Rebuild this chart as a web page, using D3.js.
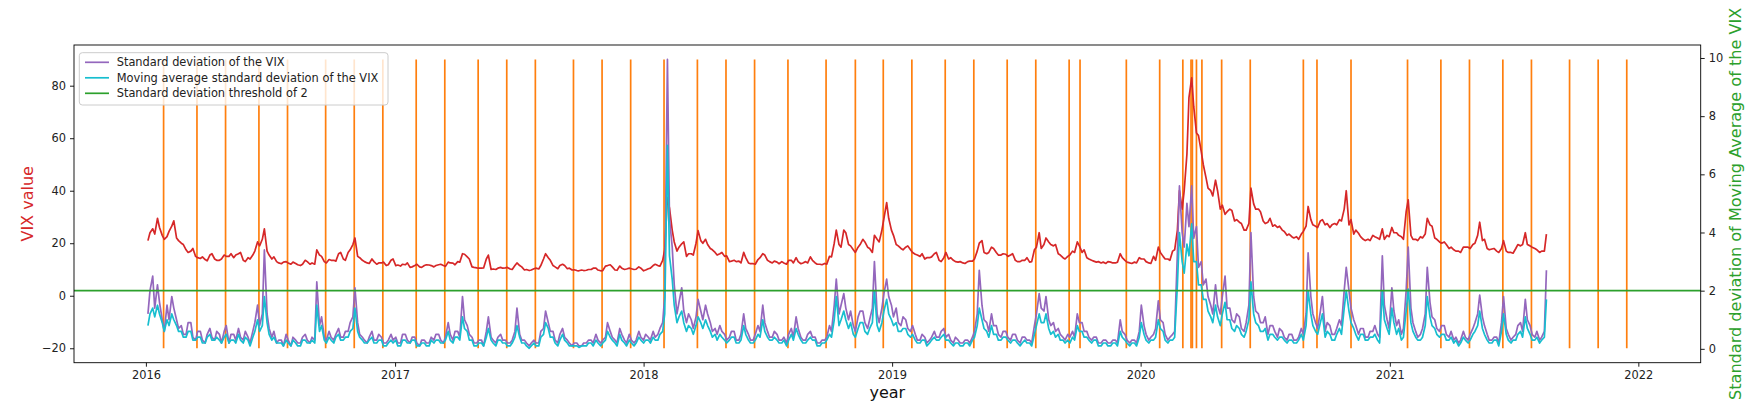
<!DOCTYPE html>
<html><head><meta charset="utf-8">
<script src="https://cdn.jsdelivr.net/npm/d3@7"></script>
<style>body{margin:0;background:#fff;} text{font-family:"DejaVu Sans",sans-serif;}</style>
</head><body><svg id="c" width="1754" height="414"></svg>
<script>
// ---- data: two samples per week (Monday, Thursday), one array per year ----
const years = [2016, 2017, 2018, 2019, 2020, 2021];
const vix2016 = [21.0,24.0, 25.5,23.5, 29.5,26.0, 23.0,21.5, 22.5,24.5, 26.5,28.5, 22.0,21.0, 20.0,19.5, 17.5,16.5, 17.0,18.0,
  15.0,14.5, 14.2,14.8, 13.8,13.3, 15.5,16.0, 14.0,13.5, 13.5,14.0, 15.5,15.0, 15.0,16.0, 14.5,15.5, 16.0,16.5,
  13.5,13.0, 14.5,14.0, 15.5,17.0, 20.5,19.0, 21.5,25.5, 17.0,15.5, 14.0,14.8, 13.0,12.5, 12.2,12.8, 13.0,12.5,
  12.0,12.8, 12.3,11.8, 11.5,12.0, 13.5,13.0, 12.0,12.5, 12.0,17.5, 15.5,15.0, 13.0,12.5, 13.8,13.5, 13.5,13.2,
  16.0,16.5, 14.0,13.5, 16.5,17.5, 19.5,22.0, 15.0,14.5, 13.5,13.0, 12.5,12.3, 14.0,13.0, 12.0,12.5, 12.5,12.8,
  11.5,11.8, 13.5,14.0];
const vix2017 = [11.5,11.7, 11.3,12.0, 11.8,12.5, 10.8,11.0, 11.5,12.0, 11.0,10.8, 11.5,11.8, 11.7,11.5, 11.0,11.5, 11.8,12.0,
  11.5,11.2, 12.8,12.5, 12.4,11.8, 13.0,12.8, 16.0,15.8, 14.8,14.0, 11.0,10.8, 10.6,10.5, 10.5,10.6, 14.0,15.5,
  10.0,10.2, 10.0,10.5, 10.8,10.5, 10.6,10.8, 10.2,10.0, 11.5,12.5, 11.5,11.0, 9.8,10.0, 9.6,9.8, 10.3,10.5,
  10.2,11.5, 14.0,16.0, 14.5,13.5, 11.5,11.0, 10.3,11.5, 12.0,11.5, 10.3,10.5, 9.8,9.9, 9.6,9.5, 9.8,9.6,
  9.7,10.0, 10.0,10.5, 10.5,9.8, 9.5,9.6, 11.3,11.5, 11.8,11.0, 9.8,9.7, 11.3,10.5, 10.0,10.2, 10.5,10.3,
  10.0,10.1, 11.0,10.5];
const vix2018 = [9.5,9.8, 10.3,10.5, 11.5,12.0, 11.5,11.3, 13.5,17.5, 37.5,33.5, 25.0,20.5, 17.0,18.5, 19.8,20.5, 15.0,16.0,
  16.0,15.5, 20.0,24.8, 21.0,20.0, 21.5,19.5, 18.0,17.5, 16.5,15.5, 16.0,16.5, 15.0,15.2, 13.0,13.2, 13.5,13.0,
  13.2,12.5, 16.5,14.5, 12.5,12.2, 12.2,12.0, 13.8,14.5, 16.0,15.5, 13.5,13.0, 12.5,13.2, 12.8,12.2, 13.0,12.5,
  12.0,13.5, 13.5,12.5, 14.5,13.0, 12.2,12.5, 13.0,12.5, 14.8,13.5, 12.5,12.0, 12.0,11.8, 12.3,12.0, 15.0,14.8,
  20.0,25.0, 19.5,18.5, 25.0,24.0, 19.5,19.0, 17.5,16.5, 18.5,19.5, 21.5,20.5, 18.5,18.0, 16.5,23.0, 21.5,20.5,
  25.0,29.5, 35.5,29.5, 25.0,23.0];
const vix2019 = [19.5,19.0, 18.0,17.5, 18.5,19.0, 17.5,16.5, 15.8,15.5, 15.0,16.0, 14.0,14.5, 14.5,14.8, 16.0,16.5, 13.5,13.0,
  14.5,16.5, 14.0,14.5, 13.5,13.0, 12.8,13.0, 12.5,12.3, 13.0,13.2, 13.2,14.0, 17.0,20.0, 21.0,16.5, 16.0,16.5,
  18.5,18.0, 16.5,15.5, 15.5,16.0, 15.8,15.0, 15.5,16.0, 13.5,13.0, 13.0,13.5, 13.5,14.5, 12.8,13.0, 17.5,18.5,
  24.0,18.0, 19.5,22.0, 20.5,19.5, 19.0,19.5, 16.0,15.5, 14.5,14.0, 15.0,15.5, 17.0,16.5, 20.5,19.0, 16.5,17.5,
  14.5,14.0, 13.5,13.2, 12.8,13.0, 12.5,12.8, 12.3,13.0, 12.8,12.5, 12.5,12.8, 16.0,14.5, 13.5,12.8, 12.5,12.3,
  12.8,12.5, 14.5,14.0];
const vix2020 = [14.0,13.0, 12.5,12.3, 15.0,13.5, 18.5,16.5, 15.0,14.0, 14.0,13.5, 17.0,17.5, 25.0,40.0, 33.0,40.0, 54.0,75.5,
  83.0,72.0, 62.0,61.0, 55.0,50.0, 45.0,41.0, 40.0,38.0, 44.0,40.0, 33.0,34.5, 31.0,32.0, 33.0,32.5, 28.5,29.0,
  28.0,27.5, 25.0,25.0, 27.5,41.0, 35.0,33.0, 33.0,32.0, 28.5,27.5, 28.0,29.5, 26.5,27.0, 26.0,26.5, 25.0,24.5,
  23.0,23.5, 22.5,22.0, 22.5,21.5, 23.5,24.5, 26.5,34.0, 29.0,27.0, 26.5,26.0, 28.5,29.0, 27.0,27.5, 26.0,27.0,
  27.5,27.0, 29.0,28.5, 33.0,40.0, 27.0,29.0, 23.5,25.0, 23.8,22.5, 21.5,21.0, 21.5,21.0, 23.0,22.5, 22.0,21.5,
  25.5,21.5, 23.0,22.5];
const vix2021 = [26.0,24.0, 24.0,23.0, 22.5,21.5, 32.0,36.5, 23.0,21.5, 21.5,21.0, 22.5,22.0, 23.5,29.5, 27.0,26.5, 22.0,21.5,
  20.5,20.0, 20.5,19.5, 18.0,18.5, 17.5,17.0, 17.0,16.5, 18.5,18.5, 18.5,18.0, 19.5,20.0, 23.0,28.0, 21.0,21.5,
  18.0,17.5, 17.8,18.0, 17.0,16.5, 18.0,21.0, 17.0,16.5, 16.5,16.2, 18.0,19.5, 19.0,19.5, 24.0,19.5, 19.0,18.5,
  18.0,17.5, 16.5,17.0, 17.0,23.5];

const sd2016 = [1.2,2.0, 2.5,1.4, 2.2,1.6, 1.0,0.6, 1.5,1.0, 1.8,1.4, 1.0,0.7, 0.8,0.5, 0.5,0.9, 0.9,0.4,
  0.3,0.6, 0.6,0.3, 0.2,0.5, 0.7,0.4, 0.3,0.6, 0.5,0.2, 0.6,0.8, 0.2,0.5, 0.5,0.3, 0.7,0.4,
  0.3,0.6, 0.4,0.2, 0.6,0.9, 1.5,0.8, 1.2,3.4, 1.2,0.7, 0.4,0.6, 0.2,0.3, 0.3,0.1, 0.5,0.3,
  0.1,0.4, 0.3,0.2, 0.2,0.4, 0.5,0.3, 0.2,0.4, 0.3,2.3, 0.8,1.1, 0.4,0.3, 0.6,0.4, 0.3,0.5,
  0.7,0.4, 0.4,0.6, 0.6,0.9, 1.1,2.1, 0.9,0.5, 0.4,0.3, 0.2,0.4, 0.6,0.3, 0.3,0.5, 0.4,0.2,
  0.2,0.3, 0.5,0.3];
const sd2017 = [0.4,0.2, 0.2,0.5, 0.5,0.3, 0.2,0.4, 0.4,0.2, 0.1,0.3, 0.3,0.2, 0.2,0.4, 0.3,0.5, 0.5,0.3,
  0.2,0.4, 0.9,0.5, 0.3,0.6, 0.6,0.4, 1.8,1.0, 0.8,0.5, 0.4,0.2, 0.2,0.3, 0.3,0.1, 0.6,1.1,
  0.4,0.3, 0.2,0.4, 0.5,0.3, 0.3,0.2, 0.2,0.3, 0.6,1.4, 0.5,0.3, 0.3,0.2, 0.1,0.2, 0.3,0.2,
  0.2,0.6, 0.7,1.3, 0.9,0.6, 0.6,0.3, 0.2,0.5, 0.7,0.4, 0.3,0.2, 0.1,0.2, 0.2,0.1, 0.1,0.2,
  0.2,0.3, 0.3,0.2, 0.5,0.3, 0.2,0.3, 0.4,0.9, 0.6,0.4, 0.3,0.2, 0.7,0.5, 0.3,0.2, 0.5,0.3,
  0.2,0.3, 0.6,0.4];
const sd2018 = [0.3,0.5, 0.4,0.3, 0.6,0.4, 0.5,0.7, 0.9,1.8, 9.95,4.5, 3.5,2.2, 1.2,1.6, 2.1,1.3, 0.9,1.2,
  1.0,0.7, 1.1,1.7, 1.3,1.0, 1.5,1.2, 0.9,0.6, 0.7,0.5, 0.8,0.6, 0.5,0.3, 0.4,0.6, 0.6,0.3,
  0.3,0.5, 1.2,0.7, 0.5,0.3, 0.3,0.5, 0.8,0.6, 1.5,0.9, 0.6,0.4, 0.4,0.6, 0.5,0.3, 0.3,0.4,
  0.2,0.5, 0.7,0.4, 1.1,0.7, 0.4,0.3, 0.3,0.5, 0.6,0.4, 0.4,0.2, 0.2,0.3, 0.3,0.4, 0.8,0.6,
  1.5,2.4, 1.2,1.5, 1.9,1.4, 1.0,1.3, 0.8,0.6, 1.1,1.3, 1.3,0.9, 0.7,1.0, 1.4,3.0, 1.2,0.9,
  1.4,1.9, 2.4,1.8, 1.5,1.1];
const sd2019 = [1.4,0.9, 0.8,1.1, 1.0,0.7, 0.6,0.8, 0.5,0.3, 0.3,0.5, 0.4,0.2, 0.3,0.4, 0.6,0.4, 0.4,0.6,
  0.7,0.4, 0.5,0.3, 0.2,0.4, 0.3,0.2, 0.2,0.3, 0.3,0.2, 0.4,0.6, 1.2,2.7, 1.5,1.0, 0.9,0.6,
  1.2,0.8, 0.8,0.5, 0.4,0.6, 0.6,0.4, 0.3,0.5, 0.5,0.3, 0.2,0.4, 0.4,0.3, 0.3,0.2, 0.8,1.2,
  1.9,1.4, 1.3,1.8, 1.0,0.8, 0.9,0.6, 0.7,0.5, 0.4,0.3, 0.5,0.4, 0.6,0.4, 1.2,0.9, 0.9,0.6,
  0.6,0.4, 0.3,0.4, 0.4,0.2, 0.2,0.3, 0.3,0.2, 0.2,0.3, 0.3,0.2, 1.0,0.6, 0.5,0.3, 0.2,0.3,
  0.3,0.2, 0.6,1.5];
const sd2020 = [0.8,0.5, 0.3,0.4, 0.5,0.7, 1.65,1.0, 0.9,0.5, 0.3,0.4, 0.5,0.6, 3.3,5.6, 4.0,3.5, 5.0,4.2,
  5.6,3.8, 4.2,2.8, 3.0,2.2, 2.4,1.8, 1.5,1.2, 2.2,1.5, 1.2,1.8, 2.5,1.4, 1.4,1.0, 0.9,1.2,
  1.1,0.7, 0.6,0.9, 1.5,4.0, 1.8,1.3, 1.2,0.9, 0.9,1.1, 0.5,0.8, 0.8,0.6, 0.4,0.7, 0.6,0.4,
  0.3,0.5, 0.5,0.3, 0.3,0.4, 0.7,0.5, 1.2,3.3, 1.8,1.2, 0.9,0.7, 1.3,1.8, 0.6,0.9, 0.8,0.5,
  0.5,0.7, 1.0,0.8, 2.0,2.8, 2.0,1.4, 1.0,0.8, 0.5,0.7, 0.7,0.4, 0.4,0.6, 0.6,0.8, 0.5,0.4,
  3.2,1.5, 1.0,0.7];
const sd2021 = [2.1,1.3, 0.8,1.0, 0.5,0.7, 2.0,3.5, 1.4,0.9, 0.6,0.4, 0.5,0.7, 1.2,2.8, 1.6,1.1, 1.0,0.7,
  0.6,0.8, 0.8,0.5, 0.4,0.6, 0.3,0.4, 0.2,0.3, 0.6,0.4, 0.3,0.5, 0.7,0.9, 1.2,1.85, 1.1,0.8,
  0.5,0.3, 0.3,0.4, 0.4,0.2, 0.9,1.8, 0.7,0.5, 0.3,0.4, 0.5,0.8, 0.9,0.6, 1.7,1.0, 0.8,0.5,
  0.4,0.6, 0.3,0.4, 0.6,2.7];

const ma2016 = [0.8,1.2, 1.4,1.1, 1.5,1.2, 0.9,0.6, 1.0,0.8, 1.2,1.0, 0.8,0.6, 0.6,0.4, 0.4,0.6, 0.6,0.3,
  0.3,0.4, 0.4,0.2, 0.2,0.4, 0.5,0.3, 0.3,0.4, 0.3,0.2, 0.4,0.5, 0.2,0.3, 0.3,0.2, 0.5,0.3,
  0.2,0.4, 0.3,0.1, 0.4,0.6, 1.0,0.6, 0.8,1.8, 0.9,0.5, 0.3,0.4, 0.2,0.2, 0.2,0.1, 0.3,0.2,
  0.1,0.3, 0.2,0.1, 0.1,0.3, 0.3,0.2, 0.2,0.3, 0.2,1.5, 0.6,0.8, 0.3,0.2, 0.4,0.3, 0.2,0.4,
  0.5,0.3, 0.3,0.4, 0.4,0.6, 0.7,1.4, 0.6,0.4, 0.3,0.2, 0.2,0.3, 0.4,0.2, 0.2,0.3, 0.3,0.1,
  0.1,0.2, 0.3,0.2];
const ma2017 = [0.3,0.1, 0.1,0.3, 0.3,0.2, 0.2,0.3, 0.3,0.1, 0.1,0.2, 0.2,0.1, 0.1,0.3, 0.2,0.3, 0.3,0.2,
  0.2,0.3, 0.6,0.3, 0.2,0.4, 0.4,0.3, 1.1,0.7, 0.6,0.3, 0.3,0.1, 0.1,0.2, 0.2,0.1, 0.4,0.7,
  0.3,0.2, 0.1,0.3, 0.3,0.2, 0.2,0.1, 0.1,0.2, 0.4,0.8, 0.4,0.2, 0.2,0.1, 0.02,0.1, 0.2,0.1,
  0.1,0.4, 0.5,0.9, 0.7,0.4, 0.4,0.2, 0.1,0.3, 0.5,0.3, 0.2,0.1, 0.1,0.1, 0.1,0.05, 0.1,0.1,
  0.1,0.2, 0.2,0.1, 0.3,0.2, 0.1,0.2, 0.3,0.6, 0.4,0.3, 0.2,0.1, 0.5,0.3, 0.2,0.1, 0.3,0.2,
  0.1,0.2, 0.4,0.3];
const ma2018 = [0.2,0.3, 0.3,0.2, 0.4,0.3, 0.3,0.5, 0.6,1.2, 7.0,3.2, 2.4,1.5, 0.9,1.1, 1.3,0.9, 0.6,0.8,
  0.7,0.5, 0.8,1.1, 0.9,0.7, 1.0,0.8, 0.6,0.4, 0.5,0.3, 0.5,0.4, 0.3,0.2, 0.3,0.4, 0.4,0.2,
  0.2,0.3, 0.8,0.5, 0.3,0.2, 0.2,0.3, 0.5,0.4, 1.0,0.6, 0.4,0.3, 0.3,0.4, 0.3,0.2, 0.2,0.3,
  0.1,0.3, 0.5,0.3, 0.7,0.5, 0.3,0.2, 0.2,0.3, 0.4,0.3, 0.3,0.1, 0.1,0.2, 0.2,0.3, 0.5,0.4,
  1.0,1.8, 0.8,1.0, 1.3,1.0, 0.7,0.9, 0.5,0.4, 0.7,0.9, 0.9,0.6, 0.5,0.7, 0.9,2.0, 0.8,0.6,
  0.9,1.3, 1.7,1.2, 1.0,0.8];
const ma2019 = [0.9,0.6, 0.6,0.7, 0.7,0.5, 0.4,0.5, 0.3,0.2, 0.2,0.3, 0.3,0.1, 0.2,0.3, 0.4,0.3, 0.3,0.4,
  0.5,0.3, 0.3,0.2, 0.1,0.2, 0.2,0.1, 0.1,0.2, 0.2,0.1, 0.3,0.4, 0.8,1.4, 1.0,0.7, 0.6,0.4,
  0.8,0.5, 0.5,0.3, 0.3,0.4, 0.4,0.3, 0.2,0.3, 0.3,0.2, 0.1,0.2, 0.3,0.2, 0.2,0.1, 0.5,0.8,
  1.2,0.9, 0.9,1.2, 0.7,0.5, 0.6,0.4, 0.5,0.3, 0.3,0.2, 0.3,0.2, 0.4,0.3, 0.8,0.6, 0.6,0.4,
  0.4,0.3, 0.2,0.3, 0.3,0.1, 0.1,0.2, 0.2,0.1, 0.1,0.2, 0.2,0.1, 0.6,0.4, 0.3,0.2, 0.1,0.2,
  0.2,0.1, 0.4,0.9];
const ma2020 = [0.5,0.3, 0.2,0.3, 0.3,0.4, 1.0,0.7, 0.6,0.3, 0.2,0.3, 0.3,0.4, 2.2,4.0, 3.0,2.6, 3.6,3.2,
  4.3,3.0, 3.0,2.2, 2.2,1.7, 1.7,1.3, 1.1,0.9, 1.5,1.1, 0.8,1.2, 1.6,1.0, 1.0,0.7, 0.6,0.8,
  0.7,0.5, 0.4,0.6, 1.0,2.3, 1.2,0.9, 0.8,0.6, 0.6,0.7, 0.3,0.5, 0.5,0.4, 0.3,0.4, 0.4,0.3,
  0.2,0.3, 0.3,0.2, 0.2,0.3, 0.5,0.3, 0.8,2.0, 1.2,0.8, 0.6,0.5, 0.9,1.2, 0.4,0.6, 0.5,0.3,
  0.3,0.5, 0.7,0.5, 1.4,2.0, 1.3,0.9, 0.7,0.5, 0.3,0.5, 0.5,0.3, 0.3,0.4, 0.4,0.5, 0.3,0.2,
  2.0,1.0, 0.7,0.5];
const ma2021 = [1.4,0.9, 0.5,0.7, 0.3,0.4, 1.3,2.05, 0.9,0.6, 0.4,0.3, 0.3,0.4, 0.8,1.8, 1.1,0.8, 0.7,0.5,
  0.4,0.5, 0.5,0.3, 0.3,0.4, 0.2,0.3, 0.1,0.2, 0.4,0.3, 0.2,0.3, 0.5,0.6, 0.8,1.3, 0.7,0.5,
  0.3,0.2, 0.2,0.3, 0.3,0.1, 0.6,1.2, 0.5,0.3, 0.2,0.3, 0.3,0.5, 0.6,0.4, 1.1,0.7, 0.5,0.3,
  0.3,0.4, 0.2,0.3, 0.4,1.7];

const eventDates = ["2016-01-27","2016-03-16","2016-04-27","2016-06-15","2016-07-27","2016-09-21","2016-11-02","2016-12-14",
  "2017-02-01","2017-03-15","2017-05-03","2017-06-14","2017-07-26","2017-09-20","2017-11-01","2017-12-13",
  "2018-01-31","2018-03-21","2018-05-02","2018-06-13","2018-08-01","2018-09-26","2018-11-08","2018-12-19",
  "2019-01-30","2019-03-20","2019-05-01","2019-06-19","2019-07-31","2019-09-18","2019-10-04","2019-12-11",
  "2020-01-29","2020-03-03","2020-03-15","2020-03-17","2020-03-23","2020-03-31","2020-04-29","2020-06-10","2020-08-27","2020-09-16","2020-11-05",
  "2021-01-27","2021-03-17","2021-04-28","2021-06-16","2021-07-28","2021-09-22","2021-11-03","2021-12-15"];
const eventMin = -20, eventMax = 90;
const threshold = 2;
const leftTicks = [-20, 0, 20, 40, 60, 80];
const rightTicks = [0, 2, 4, 6, 8, 10];
const yearTicks = [2016, 2017, 2018, 2019, 2020, 2021, 2022];
const legendLabels = ["Standard deviation of the VIX", "Moving average standard deviation of the VIX", "Standard deviation threshold of 2"];

// ---- build (Monday / Thursday sample dates) ----
function build(perYear) {
  const out = [];
  perYear.forEach((arr, k) => {
    const start = d3.timeMonday.ceil(new Date(years[k], 0, 1));
    arr.forEach((v, i) => out.push({d: d3.timeDay.offset(start, 7 * Math.floor(i / 2) + 3 * (i % 2)), v}));
  });
  return out;
}
const vix = build([vix2016, vix2017, vix2018, vix2019, vix2020, vix2021]);
const sd = build([sd2016, sd2017, sd2018, sd2019, sd2020, sd2021]);
const ma = build([ma2016, ma2017, ma2018, ma2019, ma2020, ma2021]);
const parse = d3.timeParse("%Y-%m-%d");
const events = eventDates.map(parse);

const C = {orange:"#ff7f0e", red:"#d62728", purple:"#9467bd", cyan:"#17becf", green:"#2ca02c"};
const L = 74, R = 1700.7, T = 45, B = 362.7;
const pad = (lo, hi) => { const s = hi - lo; return [lo - 0.05 * s, hi + 0.05 * s]; };

const allDates = vix.map(d => d.d).concat(events);
const xd = pad(+d3.min(allDates), +d3.max(allDates));
const x = d3.scaleTime().domain([new Date(xd[0]), new Date(xd[1])]).range([L, R]);
const yL = d3.scaleLinear().domain(pad(Math.min(eventMin, d3.min(vix, d => d.v)), Math.max(eventMax, d3.max(vix, d => d.v)))).range([B, T]);
const rv = sd.concat(ma).map(d => d.v);
const yR = d3.scaleLinear().domain(pad(d3.min(rv), d3.max(rv))).range([B, T]);

const svg = d3.select("#c");
const lw = 1.7;

// ax1
svg.append("g").selectAll("line").data(events).join("line")
  .attr("x1", d => x(d)).attr("x2", d => x(d))
  .attr("y1", yL(eventMin)).attr("y2", yL(eventMax))
  .attr("stroke", C.orange).attr("stroke-width", lw);
svg.append("path").datum(vix).attr("fill", "none").attr("stroke", C.red).attr("stroke-width", lw)
  .attr("stroke-linejoin", "round")
  .attr("d", d3.line().x(d => x(d.d)).y(d => yL(d.v)));
// ax2
svg.append("path").datum(sd).attr("fill", "none").attr("stroke", C.purple).attr("stroke-width", lw)
  .attr("stroke-linejoin", "round")
  .attr("d", d3.line().x(d => x(d.d)).y(d => yR(d.v)));
svg.append("path").datum(ma).attr("fill", "none").attr("stroke", C.cyan).attr("stroke-width", lw)
  .attr("stroke-linejoin", "round")
  .attr("d", d3.line().x(d => x(d.d)).y(d => yR(d.v)));
svg.append("line").attr("x1", L).attr("x2", R).attr("y1", yR(threshold)).attr("y2", yR(threshold))
  .attr("stroke", C.green).attr("stroke-width", lw);

// frame
svg.append("rect").attr("x", L).attr("y", T).attr("width", R - L).attr("height", B - T)
  .attr("fill", "none").attr("stroke", "#000").attr("stroke-width", 0.9);

const fs = "11.4px";
function style(g) {
  g.select(".domain").remove();
  g.selectAll(".tick line").attr("stroke", "#000").attr("stroke-width", 0.9);
  g.selectAll(".tick text").attr("fill", "#222").style("font-size", fs).style("font-family", "DejaVu Sans");
}
svg.append("g").attr("transform", `translate(${L},0)`)
  .call(d3.axisLeft(yL).tickValues(leftTicks).tickSize(4).tickPadding(4)).call(style);
svg.append("g").attr("transform", `translate(${R},0)`)
  .call(d3.axisRight(yR).tickValues(rightTicks).tickSize(4).tickPadding(4)).call(style);
svg.append("g").attr("transform", `translate(0,${B})`)
  .call(d3.axisBottom(x).tickValues(yearTicks.map(y => new Date(y, 0, 1))).tickFormat(d3.timeFormat("%Y")).tickSize(4).tickPadding(4)).call(style);

// axis labels
svg.append("text").attr("transform", `translate(33,${(T + B) / 2}) rotate(-90)`).attr("text-anchor", "middle")
  .attr("fill", C.red).style("font-size", "16px").text("VIX value");
svg.append("text").attr("transform", `translate(1740.5,${(T + B) / 2}) rotate(-90)`).attr("text-anchor", "middle")
  .attr("fill", C.green).style("font-size", "16.1px").text("Standard deviation of Moving Average of the VIX");
svg.append("text").attr("x", (L + R) / 2).attr("y", 398).attr("text-anchor", "middle")
  .attr("fill", "#111").style("font-size", "16px").text("year");

// legend
const lg = svg.append("g");
lg.append("rect").attr("x", 79.3).attr("y", 52.7).attr("width", 308.7).attr("height", 52.3).attr("rx", 3)
  .attr("fill", "#fff").attr("fill-opacity", 0.8).attr("stroke", "#ccc").attr("stroke-width", 1);
const lcol = [C.purple, C.cyan, C.green];
legendLabels.forEach((t, i) => {
  const yy = 62.3 + i * 15.5;
  lg.append("line").attr("x1", 85).attr("x2", 109).attr("y1", yy).attr("y2", yy).attr("stroke", lcol[i]).attr("stroke-width", lw);
  lg.append("text").attr("x", 116.7).attr("y", yy + 4.1).attr("fill", "#222").style("font-size", fs).text(t);
});
</script></body></html>
